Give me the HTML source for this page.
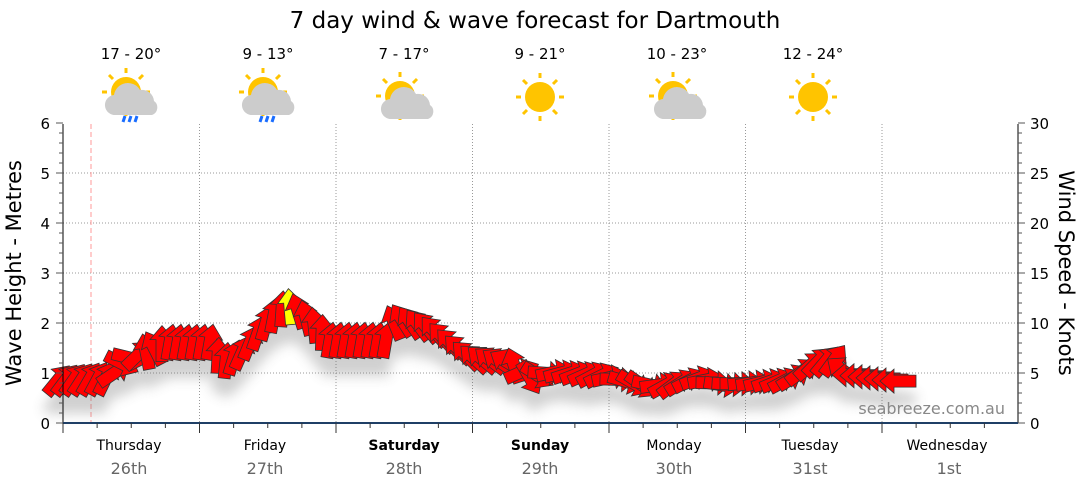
<!DOCTYPE html><html><head><style>body{margin:0;background:#fff}svg{font-family:"DejaVu Sans","Liberation Sans",sans-serif}</style></head><body>
<svg id="s" width="1080" height="490" xmlns="http://www.w3.org/2000/svg">
<defs><filter id="bl" x="-20%" y="-50%" width="140%" height="200%"><feGaussianBlur stdDeviation="6"/></filter>
<g id="sun"><circle r="15" fill="#FFC400"/><g stroke="#FFC400" stroke-width="3"><line x1="0" y1="-19" x2="0" y2="-24"/><line x1="0" y1="19" x2="0" y2="24"/><line x1="-19" y1="0" x2="-24" y2="0"/><line x1="19" y1="0" x2="24" y2="0"/><line x1="13" y1="13" x2="17" y2="17"/><line x1="-13" y1="13" x2="-17" y2="17"/><line x1="13" y1="-13" x2="17" y2="-17"/><line x1="-13" y1="-13" x2="-17" y2="-17"/></g></g>
<g id="cl"><path d="M-16,14 a10,10 0 0 1 -2,-20 a14,14 0 0 1 26,-5 a12,12 0 0 1 14,11 a8,8 0 0 1 -2,14 z" fill="#ccc"/></g>
</defs>
<text x="535" y="28" font-size="23" text-anchor="middle">7 day wind &amp; wave forecast for Dartmouth</text>
<g font-size="15" text-anchor="middle"><text x="131" y="59">17 - 20°</text><text x="268" y="59">9 - 13°</text><text x="404" y="59">7 - 17°</text><text x="540" y="59">9 - 21°</text><text x="677" y="59">10 - 23°</text><text x="813" y="59">12 - 24°</text></g>
<use href="#sun" x="126" y="92"/><use href="#cl" x="132" y="101"/><g stroke="#1a6dff" stroke-width="3"><line x1="125" y1="116" x2="123" y2="122"/><line x1="131" y1="116" x2="129" y2="122"/><line x1="137" y1="116" x2="135" y2="122"/><line x1="262" y1="116" x2="260" y2="122"/><line x1="268" y1="116" x2="266" y2="122"/><line x1="274" y1="116" x2="272" y2="122"/></g>
<use href="#sun" x="263" y="92"/><use href="#cl" x="269" y="101"/>
<use href="#sun" x="400" y="96"/><use href="#cl" x="408" y="105"/>
<use href="#sun" x="540" y="97"/>
<use href="#sun" x="673" y="96"/><use href="#cl" x="681" y="105"/>
<use href="#sun" x="813" y="97"/>
<g id="grid" stroke="#999" stroke-dasharray="1,2" stroke-width="1"></g>
<line x1="91" y1="124" x2="91" y2="423" stroke="#f99" stroke-dasharray="5,3"/>
<g id="sh" filter="url(#bl)" opacity="0.3"></g>
<g id="ar" stroke="#333" stroke-width="0.8"></g>
<text x="1005" y="414" font-size="16" fill="#888" text-anchor="end">seabreeze.com.au</text>
<g id="ax"></g>
<text transform="translate(21,273) rotate(-90)" font-size="21" text-anchor="middle">Wave Height - Metres</text>
<text transform="translate(1059,273) rotate(90)" font-size="21" text-anchor="middle">Wind Speed - Knots</text>
<g font-size="14" text-anchor="middle"><text x="129" y="450">Thursday</text><text x="265" y="450">Friday</text><text x="404" y="450" font-weight="bold">Saturday</text><text x="540" y="450" font-weight="bold">Sunday</text><text x="674" y="450">Monday</text><text x="810" y="450">Tuesday</text><text x="947" y="450">Wednesday</text></g>
<g font-size="16" fill="#666" text-anchor="middle"><text x="129" y="474">26th</text><text x="265" y="474">27th</text><text x="404" y="474">28th</text><text x="540" y="474">29th</text><text x="674" y="474">30th</text><text x="810" y="474">31st</text><text x="949" y="474">1st</text></g>
</svg>
<script>
var NS="http://www.w3.org/2000/svg",s=document.getElementById('s');
function el(p,t,a,txt){var e=document.createElementNS(NS,t);for(var k in a)e.setAttribute(k,a[k]);if(txt!=null)e.textContent=txt;p.appendChild(e);return e;}
var g=document.getElementById('grid'),ax=document.getElementById('ax');
for(var i=1;i<6;i++){var y=423-50*i;el(g,'line',{x1:63,y1:y,x2:1018,y2:y});}
for(var d=1;d<7;d++){var x=63+136.5*d;el(g,'line',{x1:x,y1:124,x2:x,y2:423});}
el(ax,'line',{x1:63,y1:124,x2:63,y2:423,stroke:'#000'});
el(ax,'line',{x1:1018,y1:124,x2:1018,y2:423,stroke:'#000'});
el(ax,'line',{x1:63,y1:423,x2:1018,y2:423,stroke:'#1f3f66','stroke-width':2});
for(var i=0;i<=30;i++){var y=423-10*i;var big=i%5==0;el(ax,'line',{x1:big?56:59,y1:y,x2:63,y2:y,stroke:'#555'});el(ax,'line',{x1:1018,y1:y,x2:big?1025:1022,y2:y,stroke:'#555'});}
for(var i=0;i<=6;i++){el(ax,'text',{x:50,y:429-50*i,'font-size':15,'text-anchor':'end'},i);el(ax,'text',{x:1030,y:429-50*i,'font-size':15},i*5);}
for(var i=0;i<=28;i++){var x=63+34.125*i;if(x>1018)break;el(ax,'line',{x1:x,y1:423,x2:x,y2:i%4==0?433:428,stroke:'#333'});}
var K=[[55,380,40],[110,378,25],[125,360,140],[150,350,-40],[165,342,10],[210,342,10],[222,362,0],[240,355,25],[270,318,15],[287,305,0],[300,312,-20],[330,340,10],[390,340,10],[395,318,-30],[430,328,-40],[470,358,-45],[510,362,-60],[530,378,150],[550,372,80],[600,375,60],[640,385,130],[670,385,50],[700,378,70],[720,385,100],[790,380,60],[815,362,45],[835,360,35],[845,374,-90],[905,382,-90]];
function at(x){for(var i=0;i<K.length-1;i++){if(x<=K[i+1][0]){var t=(x-K[i][0])/(K[i+1][0]-K[i][0]);return [K[i][1]+t*(K[i+1][1]-K[i][1]),K[i][2]+t*(K[i+1][2]-K[i][2])];}}return [K[K.length-1][1],K[K.length-1][2]];}
var ar=document.getElementById('ar'),sh=document.getElementById('sh');
var P="0,-18 12,-4 6,-4 6,18 -6,18 -6,-4 -12,-4";
for(var x=58;x<=905;x+=8){var v=at(x);var tr='translate('+x.toFixed(1)+','+v[0].toFixed(1)+') rotate('+v[1].toFixed(0)+')';
el(sh,'polygon',{points:P,transform:'translate('+x.toFixed(1)+','+(v[0]+18).toFixed(1)+') rotate('+v[1].toFixed(0)+')',fill:'#666'});
el(ar,'polygon',{points:P,transform:tr,fill:(Math.abs(x-287)<4)?'#ffff00':'#f00'});}
</script>
</body></html>
